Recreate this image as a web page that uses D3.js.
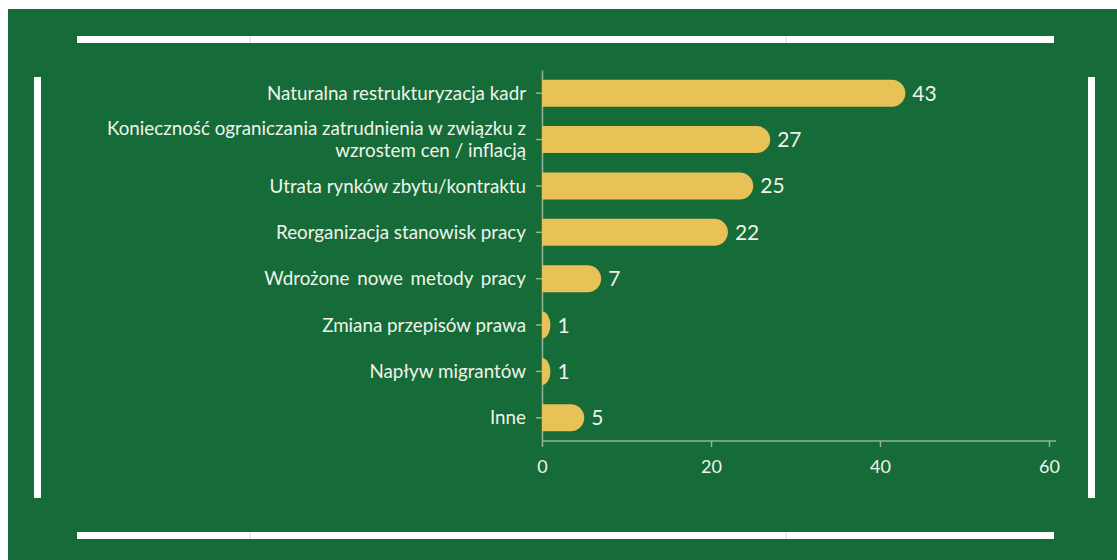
<!DOCTYPE html>
<html>
<head>
<meta charset="utf-8">
<script src="https://cdn.jsdelivr.net/npm/d3@7"></script>
<style>
  html, body { margin: 0; padding: 0; background: #ffffff; }
  svg { display: block; }
</style>
</head>
<body>
<svg id="chart" width="1117" height="560"></svg>
<script>
// Reasons for workforce reduction (number of responses)
const categories = [
  "Naturalna restrukturyzacja kadr",
  "Konieczność ograniczania zatrudnienia w związku z|wzrostem cen / inflacją",
  "Utrata rynków zbytu/kontraktu",
  "Reorganizacja stanowisk pracy",
  "Wdrożone nowe metody pracy",
  "Zmiana przepisów prawa",
  "Napływ migrantów",
  "Inne"
];
const values = [43, 27, 25, 22, 7, 1, 1, 5];
const xTicks = [0, 20, 40, 60];

const svg = d3.select("#chart");
const W = 1117, H = 560;

const green = "#156c38";
const barColor = "#e8c257";
const textColor = "#f1f3ea";
const axisColor = "#8fb69a";

// Panel background
svg.append("rect").attr("x", 8).attr("y", 9).attr("width", W - 8).attr("height", H - 9).attr("fill", green);

// Decorative frame strips
const frame = svg.append("g").attr("fill", "#ffffff");
frame.append("rect").attr("x", 77).attr("y", 36).attr("width", 977).attr("height", 7);
frame.append("rect").attr("x", 77).attr("y", 532).attr("width", 977).attr("height", 7);
frame.append("rect").attr("x", 34).attr("y", 77).attr("width", 7).attr("height", 421);
frame.append("rect").attr("x", 1088).attr("y", 77).attr("width", 7).attr("height", 421);
[250, 786].forEach(x => {
  [36, 532].forEach(y => {
    svg.append("line").attr("x1", x).attr("x2", x).attr("y1", y).attr("y2", y + 7)
      .attr("stroke", "#d6dcd8").attr("stroke-width", 1);
  });
});

// Scales
const x = d3.scaleLinear().domain([0, 60]).range([542, 1049]);
const y = d3.scaleBand().domain(categories).range([70, 441]).paddingInner(0.42).paddingOuter(0.21);

// X axis
const xAxis = svg.append("g").attr("transform", "translate(0,441)")
  .call(d3.axisBottom(x).tickValues(xTicks).tickSize(6).tickPadding(13).tickSizeOuter(0));
xAxis.select(".domain").attr("stroke", axisColor).attr("stroke-width", 1.5)
  .attr("d", `M${x(0)},0H1056`);
xAxis.selectAll(".tick line").attr("stroke", axisColor).attr("stroke-width", 1.5);
xAxis.selectAll(".tick text").attr("fill", textColor)
  .style("font-family", "Lato, sans-serif").style("font-size", "18px");

// Y axis
const yAxis = svg.append("g").attr("transform", `translate(${x(0)},0)`)
  .call(d3.axisLeft(y).tickSize(6).tickSizeOuter(0).tickFormat(""));
yAxis.select(".domain").attr("stroke", axisColor).attr("stroke-width", 1.5);
yAxis.selectAll(".tick line").attr("stroke", axisColor).attr("stroke-width", 1.5);

// Category labels (with manual line breaks marked by "|")
const labels = svg.append("g")
  .style("font-family", "Lato, sans-serif").style("font-size", "18.8px")
  .attr("fill", textColor).attr("text-anchor", "end");
categories.forEach(c => {
  const lines = c.split("|");
  const cy = y(c) + y.bandwidth() / 2;
  const lh = 22;
  lines.forEach((ln, i) => {
    const t = labels.append("text").attr("x", 526)
      .attr("y", cy - (lines.length - 1) * lh / 2 + i * lh)
      .attr("dy", "0.35em")
      .text(ln);
    if (c.startsWith("Wdrożone")) t.style("word-spacing", "3px");
  });
});

// Bars with rounded right end
const bh = y.bandwidth();
svg.append("g").selectAll("path").data(categories).join("path")
  .attr("fill", barColor)
  .attr("d", (c, i) => {
    const x0 = x(0), x1 = x(values[i]);
    const w = x1 - x0;
    const r = Math.min(bh / 2, w);
    const top = y(c), bot = y(c) + bh;
    return `M${x0},${top}H${x1 - r}A${r},${bh / 2} 0 0 1 ${x1 - r},${bot}H${x0}Z`;
  });

// Value labels
svg.append("g").selectAll("text").data(categories).join("text")
  .attr("x", (c, i) => x(values[i]) + 7)
  .attr("y", c => y(c) + bh / 2)
  .attr("dy", "0.36em")
  .attr("fill", textColor)
  .style("font-family", "Lato, sans-serif").style("font-size", "21px")
  .text((c, i) => values[i]);
</script>
</body>
</html>
